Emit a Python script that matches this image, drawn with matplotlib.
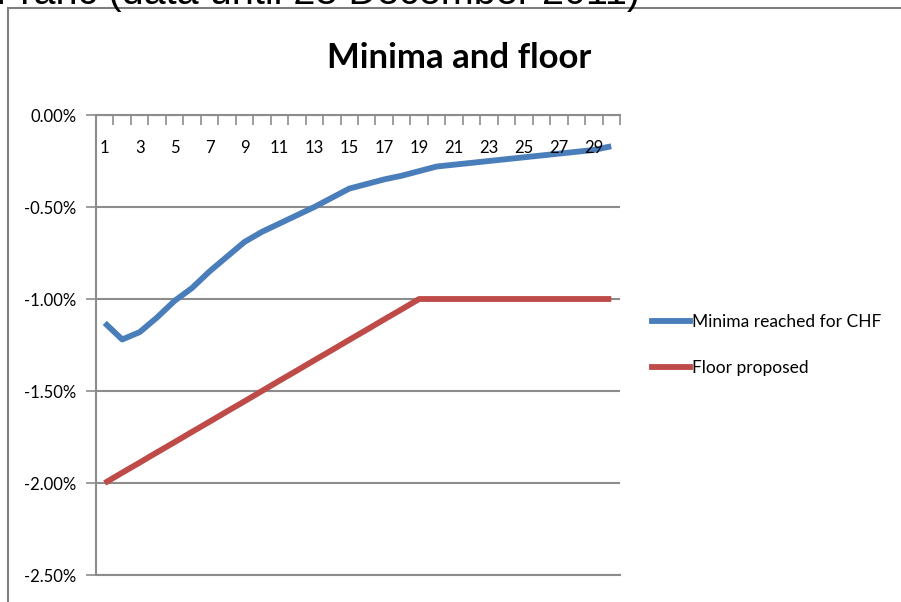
import numpy as np
import matplotlib.pyplot as plt
from matplotlib.lines import Line2D
from matplotlib.patches import Rectangle
import matplotlib.transforms as mtransforms

# Series values in percent, days 1..30
days = list(range(1, 31))
minima_chf = [-1.13, -1.22, -1.18, -1.10, -1.01, -0.94, -0.85, -0.77, -0.69, -0.635,
              -0.59, -0.545, -0.50, -0.45, -0.40, -0.375, -0.35, -0.33, -0.305, -0.28,
              -0.27, -0.26, -0.25, -0.24, -0.23, -0.22, -0.21, -0.20, -0.19, -0.17]
floor_proposed = [-2.000, -1.944, -1.889, -1.833, -1.778, -1.722, -1.667, -1.611, -1.556, -1.500,
                  -1.444, -1.389, -1.333, -1.278, -1.222, -1.167, -1.111, -1.056, -1.000, -1.000,
                  -1.000, -1.000, -1.000, -1.000, -1.000, -1.000, -1.000, -1.000, -1.000, -1.000]
y_ticks = [0.0, -0.5, -1.0, -1.5, -2.0, -2.5]
series_names = ['Minima reached for CHF', 'Floor proposed']

plt.rcParams['font.family'] = ['Lato', 'DejaVu Sans']
GRID = '#8c8c8c'
BLUE = '#4a7ebb'
RED = '#be4b48'

W, H = 901, 602
fig = plt.figure(figsize=(W / 100, H / 100), dpi=100)

# outer chart frame and clipped heading above it
fig.add_artist(Rectangle((8 / W, -0.1), 1.2, 1.1 - 8 / H, transform=fig.transFigure,
                         fill=False, edgecolor='#7f7f7f', lw=1.5))
fig.text(-0.004, 1 - 3.5 / H, 'Franc (data until 28 December 2011)', family='Liberation Sans',
         fontsize=28.5, va='baseline', ha='left', color='black')

ax = fig.add_axes([96 / W, 27 / H, (620 - 96) / W, 460 / H])
ax.plot(days, minima_chf, color=BLUE, lw=4.2, solid_capstyle='butt', solid_joinstyle='round')
ax.plot(days, floor_proposed, color=RED, lw=4.2, solid_capstyle='butt', solid_joinstyle='round')

ax.set_xlim(0.5, 30.5)
ax.set_ylim(-2.5, 0)

ax.set_yticks(y_ticks)
ax.set_yticklabels(['%.2f%%' % v for v in y_ticks], fontsize=12)
ax.yaxis.grid(True, color=GRID, lw=1.5)
ax.tick_params(axis='y', direction='out', length=7, width=1.2, color=GRID, pad=7)

# category axis sits at zero (top edge), ticks between categories
ax.xaxis.set_ticks_position('top')
ax.set_xticks(np.arange(0.5, 31, 1.0))
ax.set_xticklabels([])
ax.tick_params(axis='x', direction='in', length=7, width=1.2, color=GRID)
trans = mtransforms.blended_transform_factory(ax.transData, ax.transAxes)
for d in days[::2]:
    ax.text(d, 1 - 33 / 460, str(d), transform=trans, ha='center', va='center', fontsize=12)

for side in ['left', 'top', 'bottom']:
    ax.spines[side].set_color(GRID)
    ax.spines[side].set_linewidth(1.5)
ax.spines['right'].set_visible(False)
ax.set_axisbelow(True)

fig.text(459 / W, 1 - 58 / H, 'Minima and floor', fontsize=25, fontweight='bold',
         ha='center', va='center')

handles = [Line2D([], [], color=BLUE, lw=4.2), Line2D([], [], color=RED, lw=4.2)]
fig.legend(handles, series_names, loc='center left', bbox_to_anchor=(643 / W, 1 - 345 / H),
           frameon=False, fontsize=12.5, handlelength=2.2, handletextpad=0.12,
           labelspacing=1.75, borderpad=0)

fig.savefig('out.png', dpi=100)
